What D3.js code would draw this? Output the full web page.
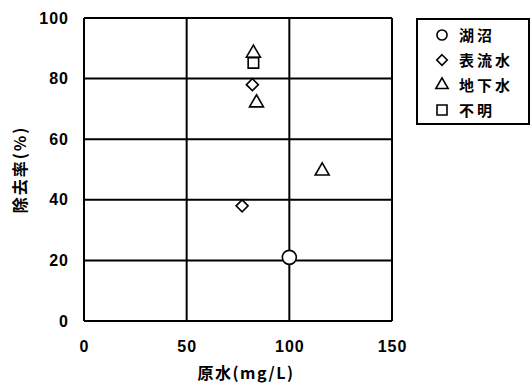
<!DOCTYPE html>
<html>
<head>
<meta charset="utf-8">
<script src="https://cdn.jsdelivr.net/npm/d3@7"></script>
<style>
  body { margin: 0; background: #fff; }
  svg text { font-family: "Noto Sans CJK JP", "Noto Sans", sans-serif; font-weight: bold; fill: #000; }
</style>
</head>
<body>
<div id="chart"></div>
<script>
var categories = ["湖沼", "表流水", "地下水", "不明"];
var lakeX = [100], lakeY = [21];
var surfaceX = [77, 82], surfaceY = [38, 78];
var groundX = [84, 116, 82.5], groundY = [72, 49.5, 88.4];
var unknownX = [82.5], unknownY = [85.2];
var xTicks = [0, 50, 100, 150];
var yTicks = [0, 20, 40, 60, 80, 100];

// diamond as a square turned 45 degrees
var diamond = {
  draw: function(ctx, size) {
    var r = Math.sqrt(size / 2);
    ctx.moveTo(0, -r); ctx.lineTo(r, 0); ctx.lineTo(0, r); ctx.lineTo(-r, 0); ctx.closePath();
  }
};
var shapes = [d3.symbolCircle, diamond, d3.symbolTriangle, d3.symbolSquare];

var series = [
  { name: categories[0], xs: lakeX, ys: lakeY },
  { name: categories[1], xs: surfaceX, ys: surfaceY },
  { name: categories[2], xs: groundX, ys: groundY },
  { name: categories[3], xs: unknownX, ys: unknownY }
];
var sizes = [154, 72, 85, 110];

var width = 530, height = 388;
var margin = { top: 18, right: 138, bottom: 67, left: 84 };
var w = width - margin.left - margin.right,
    h = height - margin.top - margin.bottom;

var x = d3.scaleLinear().domain([0, 150]).range([0, w]);
var y = d3.scaleLinear().domain([0, 100]).range([h, 0]);

var svg = d3.select("#chart").append("svg")
    .attr("width", width).attr("height", height);
var g = svg.append("g")
    .attr("transform", "translate(" + margin.left + "," + margin.top + ")");

// grid
g.selectAll(".hgrid").data(yTicks).enter().append("line")
    .attr("x1", 0).attr("x2", w)
    .attr("y1", function(d) { return y(d); }).attr("y2", function(d) { return y(d); })
    .attr("stroke", "#000").attr("stroke-width", 2);
g.selectAll(".vgrid").data(xTicks).enter().append("line")
    .attr("y1", 0).attr("y2", h)
    .attr("x1", function(d) { return x(d); }).attr("x2", function(d) { return x(d); })
    .attr("stroke", "#000").attr("stroke-width", 2);

// axes (labels only)
var xAxis = g.append("g")
    .attr("transform", "translate(0," + h + ")")
    .call(d3.axisBottom(x).tickValues(xTicks).tickSize(0).tickPadding(20));
var yAxis = g.append("g")
    .call(d3.axisLeft(y).tickValues(yTicks).tickSize(0).tickPadding(16));
[xAxis, yAxis].forEach(function(a) {
  a.select(".domain").remove();
  a.selectAll("text").style("font-size", "16px")
    .style("font-family", "Liberation Sans, Arial, sans-serif").style("font-weight", "bold");
});
xAxis.selectAll("text").style("letter-spacing", "1px");
yAxis.selectAll("text").style("letter-spacing", "1px").attr("dx", "1px");

// points
series.forEach(function(s, i) {
  g.selectAll(".pt" + i).data(s.xs).enter().append("path")
    .attr("d", d3.symbol().type(shapes[i]).size(sizes[i]))
    .attr("transform", function(d, j) { return "translate(" + x(d) + "," + y(s.ys[j]) + ")"; })
    .attr("fill", "#fff").attr("stroke", "#000").attr("stroke-width", 1.6);
});

// axis titles
svg.append("text")
    .attr("x", 246).attr("y", 379)
    .attr("text-anchor", "middle").style("font-size", "16px").style("letter-spacing", "1.5px")
    .text("原水(mg/L)");
svg.append("text")
    .attr("transform", "translate(26," + (margin.top + y(50)) + ") rotate(-90)")
    .attr("text-anchor", "middle").style("font-size", "16px").style("letter-spacing", "2px")
    .text("除去率(%)");

// legend
var lg = svg.append("g").attr("transform", "translate(417,19)");
lg.append("rect").attr("width", 112).attr("height", 105)
    .attr("fill", "#fff").attr("stroke", "#000").attr("stroke-width", 2);
var lsizes = [80, 55, 65, 100];
categories.forEach(function(c, i) {
  var row = lg.append("g").attr("transform", "translate(0," + (16 + i * 25) + ")");
  row.append("path")
    .attr("d", d3.symbol().type(shapes[i]).size(lsizes[i]))
    .attr("transform", "translate(25,0)")
    .attr("fill", "#fff").attr("stroke", "#000").attr("stroke-width", 1.6);
  row.append("text").attr("x", 42).attr("y", 5.5)
    .style("font-size", "15px").style("letter-spacing", "3px").text(c);
});
</script>
</body>
</html>
